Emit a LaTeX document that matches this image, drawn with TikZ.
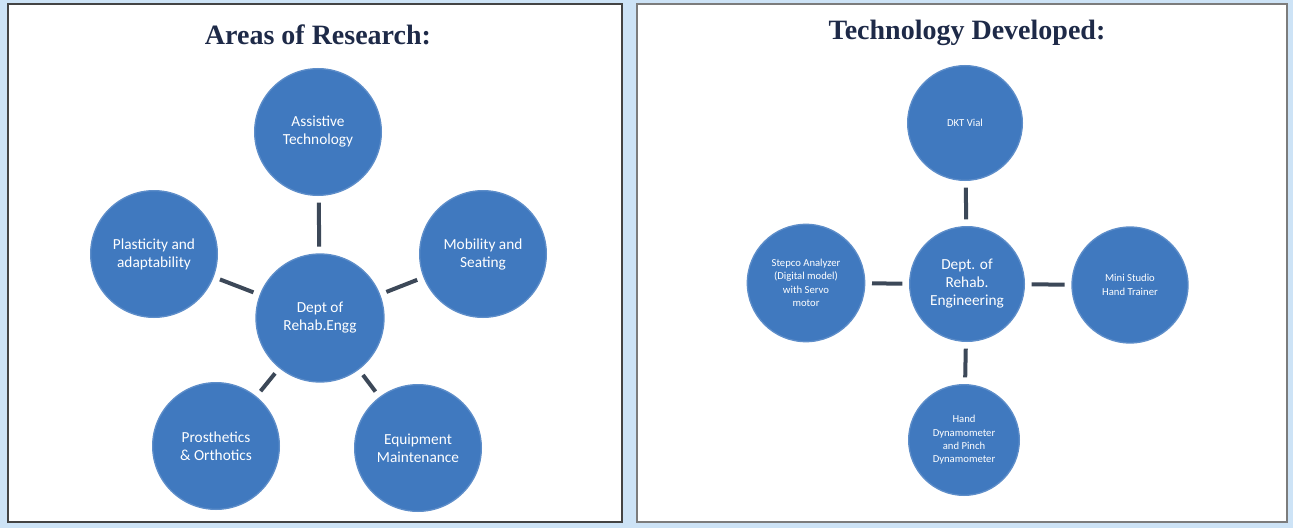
\documentclass[tikz,border=0pt]{standalone}
\usepackage{fontspec}
\setmainfont{Liberation Serif}
\newfontfamily\carl{Carlito}
\definecolor{bgblue}{HTML}{CDE3F6}
\definecolor{circblue}{HTML}{4079BF}
\definecolor{connc}{HTML}{3C4858}
\definecolor{titlec}{HTML}{1E2A48}
\definecolor{framec}{HTML}{444444}
\tikzset{
  bub/.style={circle, fill=circblue, draw=circblue!85!white, line width=1pt, inner sep=0pt, minimum size=#1, text=white, align=center, font=\carl\fontsize{11.5pt}{13.5pt}\selectfont},
  bub/.default=95pt,
  smallbub/.style={bub=#1, font=\carl\fontsize{8pt}{10pt}\selectfont},
  conn/.style={draw=connc, line width=3pt, shorten >=5pt, shorten <=5pt},
  panel/.style={fill=white, draw=framec, line width=1.3pt},
  ttl/.style={text=titlec, font=\bfseries\fontsize{21pt}{24pt}\selectfont}
}
\begin{document}
\begin{tikzpicture}[x=0.75pt,y=-0.75pt]
\path[use as bounding box, fill=bgblue] (0,0) rectangle (1293,528);
\draw[panel] (8,4) rectangle (622,522);
\draw[panel, draw=framec!70] (637,4) rectangle (1287,522);

% Left panel
\node[ttl] (t1) at (318,35) {Areas of Research:};
\node[bub=96pt] (c1) at (320,318) {Dept of\\Rehab.Engg};
\node[bub] (a1) at (318,132) {Assistive\\Technology};
\node[bub] (m1) at (483,254) {Mobility and\\Seating};
\node[bub] (p1) at (154,254) {Plasticity and\\adaptability};
\node[bub] (o1) at (216,446) {Prosthetics\\\& Orthotics};
\node[bub] (e1) at (418,448) {Equipment\\Maintenance};
\draw[conn] (a1) -- (c1);
\draw[conn] (m1) -- (c1);
\draw[conn] (p1) -- (c1);
\draw[conn] (o1) -- (c1);
\draw[conn] (e1) -- (c1);

% Right panel
\node[ttl] (t2) at (967,33) {Technology Developed:};
\node[bub=86pt, font=\carl\fontsize{11.5pt}{13.5pt}\selectfont] (c2) at (967,284) {Dept. of\\Rehab.\\Engineering};
\node[smallbub=86pt] (d2) at (965,123) {DKT Vial};
\node[smallbub=88pt] (s2) at (806,283) {Stepco Analyzer\\(Digital model)\\with Servo\\motor};
\node[smallbub=87pt] (n2) at (1130,285) {Mini Studio\\Hand Trainer};
\node[smallbub=83pt] (h2) at (964,440) {Hand\\Dynamometer\\and Pinch\\Dynamometer};
\draw[conn] (d2) -- (c2);
\draw[conn] (s2) -- (c2);
\draw[conn] (n2) -- (c2);
\draw[conn] (h2) -- (c2);
\end{tikzpicture}
\end{document}
